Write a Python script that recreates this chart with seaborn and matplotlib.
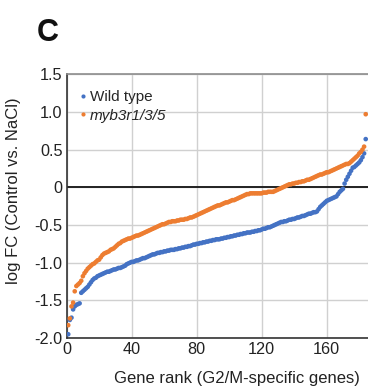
import numpy as np
import pandas as pd
import matplotlib
matplotlib.use("Agg")
import matplotlib.pyplot as plt
import seaborn as sns

# Sorted log fold changes of G2/M-specific genes (rank 1..184)
wild_type = [
    -1.95, -1.76, -1.73, -1.62, -1.58, -1.56, -1.55, -1.54, -1.40, -1.38,
    -1.36, -1.34, -1.32, -1.29, -1.26, -1.23, -1.21, -1.20, -1.18, -1.17,
    -1.16, -1.15, -1.14, -1.13, -1.12, -1.12, -1.11, -1.10, -1.09, -1.09,
    -1.08, -1.07, -1.07, -1.06, -1.05, -1.04, -1.02, -1.01, -1.00, -0.99,
    -0.99, -0.98, -0.97, -0.97, -0.96, -0.95, -0.94, -0.94, -0.93, -0.92,
    -0.91, -0.90, -0.89, -0.89, -0.88, -0.87, -0.87, -0.86, -0.86, -0.85,
    -0.85, -0.84, -0.84, -0.83, -0.83, -0.83, -0.82, -0.82, -0.81, -0.81,
    -0.80, -0.80, -0.79, -0.79, -0.78, -0.78, -0.77, -0.76, -0.76, -0.75,
    -0.75, -0.74, -0.74, -0.73, -0.73, -0.72, -0.72, -0.71, -0.71, -0.70,
    -0.70, -0.69, -0.69, -0.69, -0.68, -0.68, -0.67, -0.67, -0.66, -0.66,
    -0.65, -0.65, -0.64, -0.64, -0.63, -0.63, -0.62, -0.62, -0.61, -0.61,
    -0.60, -0.60, -0.60, -0.59, -0.59, -0.58, -0.58, -0.57, -0.57, -0.56,
    -0.55, -0.55, -0.54, -0.53, -0.53, -0.52, -0.51, -0.50, -0.49, -0.48,
    -0.47, -0.46, -0.46, -0.45, -0.45, -0.44, -0.43, -0.43, -0.42, -0.42,
    -0.41, -0.40, -0.40, -0.39, -0.38, -0.38, -0.37, -0.36, -0.35, -0.35,
    -0.34, -0.33, -0.33, -0.32, -0.29, -0.26, -0.24, -0.22, -0.20, -0.18,
    -0.17, -0.16, -0.15, -0.14, -0.13, -0.12, -0.09, -0.06, -0.04, -0.02,
    0.05, 0.10, 0.14, 0.18, 0.22, 0.26, 0.27, 0.29, 0.31, 0.33,
    0.36, 0.40, 0.45, 0.64,
]

myb3r = [
    -1.83, -1.74, -1.58, -1.53, -1.38, -1.31, -1.29, -1.27, -1.24, -1.18,
    -1.14, -1.11, -1.08, -1.06, -1.04, -1.02, -1.01, -0.99, -0.97, -0.96,
    -0.93, -0.90, -0.88, -0.87, -0.86, -0.85, -0.83, -0.82, -0.81, -0.79,
    -0.77, -0.75, -0.74, -0.72, -0.71, -0.70, -0.69, -0.68, -0.68, -0.67,
    -0.66, -0.65, -0.64, -0.64, -0.63, -0.62, -0.61, -0.60, -0.59, -0.58,
    -0.57, -0.56, -0.55, -0.54, -0.53, -0.52, -0.51, -0.50, -0.49, -0.49,
    -0.48, -0.47, -0.46, -0.46, -0.45, -0.45, -0.45, -0.44, -0.44, -0.43,
    -0.43, -0.43, -0.42, -0.42, -0.41, -0.40, -0.40, -0.39, -0.38, -0.37,
    -0.36, -0.35, -0.34, -0.33, -0.32, -0.31, -0.30, -0.29, -0.28, -0.27,
    -0.26, -0.25, -0.24, -0.24, -0.23, -0.22, -0.21, -0.20, -0.20, -0.19,
    -0.18, -0.17, -0.17, -0.16, -0.15, -0.14, -0.13, -0.12, -0.11, -0.10,
    -0.09, -0.09, -0.08, -0.08, -0.08, -0.08, -0.08, -0.08, -0.08, -0.08,
    -0.07, -0.07, -0.07, -0.06, -0.06, -0.06, -0.06, -0.05, -0.04, -0.03,
    -0.02, -0.01, 0.00, 0.01, 0.02, 0.03, 0.04, 0.04, 0.05, 0.05,
    0.06, 0.06, 0.07, 0.07, 0.08, 0.08, 0.09, 0.10, 0.10, 0.11,
    0.12, 0.13, 0.14, 0.15, 0.16, 0.17, 0.17, 0.18, 0.19, 0.20,
    0.20, 0.21, 0.22, 0.23, 0.24, 0.25, 0.26, 0.27, 0.28, 0.29,
    0.30, 0.31, 0.31, 0.32, 0.34, 0.36, 0.38, 0.40, 0.42, 0.45,
    0.47, 0.50, 0.54, 0.97,
]

series_names = ["Wild type", "myb3r1/3/5"]
series_colors = ["#4472C4", "#ED7D31"]
x_ticks = [0, 40, 80, 120, 160]
y_ticks = [-2.0, -1.5, -1.0, -0.5, 0, 0.5, 1.0, 1.5]
y_tick_labels = ["-2.0", "-1.5", "-1.0", "-0.5", "0", "0.5", "1.0", "1.5"]

rank = np.arange(1, len(wild_type) + 1)
df = pd.concat([
    pd.DataFrame({"rank": rank, "logFC": wild_type, "genotype": series_names[0]}),
    pd.DataFrame({"rank": rank, "logFC": myb3r, "genotype": series_names[1]}),
])

sns.set_theme(style="white")
plt.rcParams["font.family"] = ["Liberation Sans", "DejaVu Sans"]

fig = plt.figure(figsize=(3.68, 3.90), dpi=100)
ax = fig.add_axes([0.181, 0.1333, 0.819, 0.6762])

sns.scatterplot(
    data=df, x="rank", y="logFC", hue="genotype",
    palette=dict(zip(series_names, series_colors)),
    s=11, linewidth=0, edgecolor="none", ax=ax, zorder=3,
)

ax.set_xlim(0, 185.4)
ax.set_ylim(-2.0, 1.5)
ax.set_xticks(x_ticks)
ax.set_yticks(y_ticks)
ax.set_yticklabels(y_tick_labels)
ax.tick_params(axis="both", length=0, labelsize=11.7, colors="#222222", pad=3)

ax.grid(True, color="#D0D0D0", linewidth=1.0, zorder=0)
ax.axhline(0, color="#222222", linewidth=1.4, zorder=2)

ax.spines["right"].set_visible(False)
ax.spines["top"].set_color("#8C8C8C")
ax.spines["top"].set_linewidth(1.2)
ax.spines["left"].set_color("#333333")
ax.spines["left"].set_linewidth(1.2)
ax.spines["bottom"].set_color("#333333")
ax.spines["bottom"].set_linewidth(1.2)

ax.set_xlabel("Gene rank (G2/M-specific genes)", fontsize=12, color="#222222")
ax.set_ylabel("log FC (Control vs. NaCl)", fontsize=12, color="#222222")
ax.xaxis.set_label_coords(0.565, -0.125)
ax.yaxis.set_label_coords(-0.15, 0.56)

handles, labels = ax.get_legend_handles_labels()
leg = ax.legend(handles, labels, loc="upper left", bbox_to_anchor=(0.0, 0.98),
                frameon=False, fontsize=11, handletextpad=0.1,
                handlelength=0.7, labelspacing=0.3, borderaxespad=0.3,
                markerscale=0.9)
leg.get_texts()[1].set_fontstyle("italic")

fig.text(0.10, 0.955, "C", fontsize=22, fontweight="bold", va="top", ha="left",
         color="#111111")

fig.savefig("out.png", dpi=100)
